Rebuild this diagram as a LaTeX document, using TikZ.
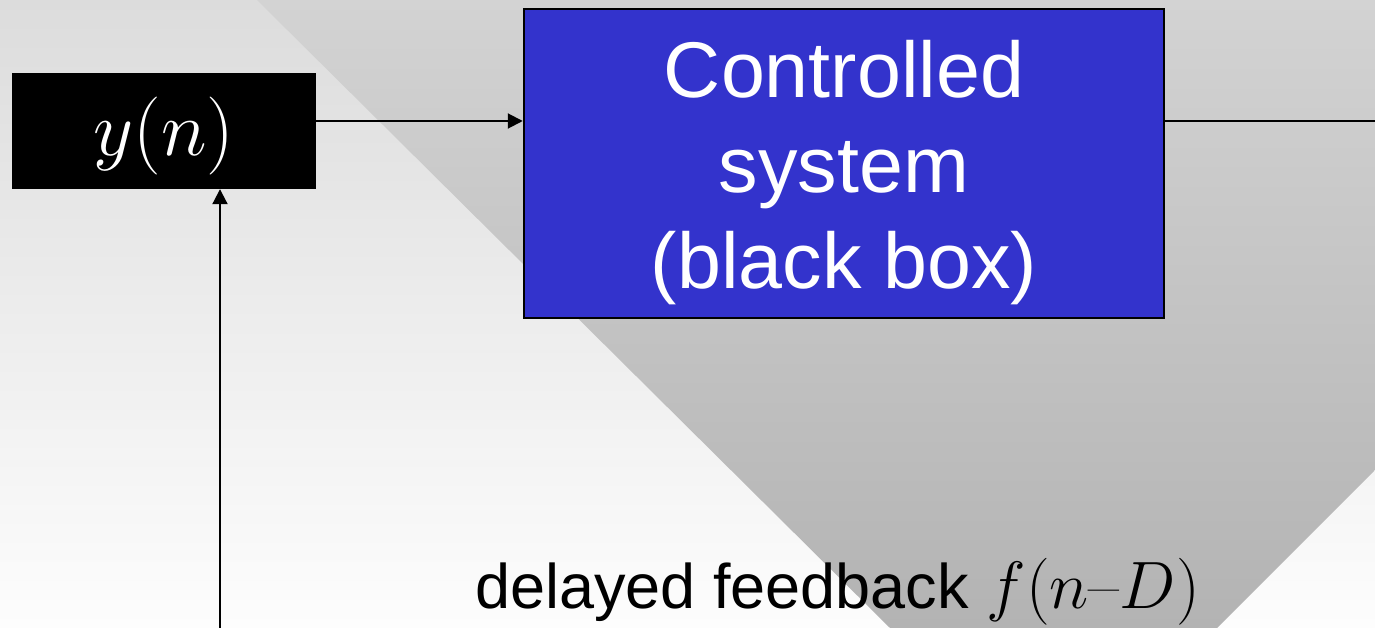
\RequirePackage{fix-cm}
\documentclass[tikz,border=0pt]{standalone}
\usepackage[no-math]{fontspec}
\setmainfont{Liberation Sans}
\newfontfamily\lmr{Latin Modern Roman}
\usetikzlibrary{arrows.meta}

\definecolor{bgtop}{HTML}{DCDCDC}
\definecolor{bgbottom}{HTML}{FDFDFD}
\definecolor{bandtop}{HTML}{D3D3D3}
\definecolor{bandbottom}{HTML}{B3B3B3}
\definecolor{sysblue}{HTML}{3333CC}

\tikzset{
  signal/.style={draw=black, line width=2pt},
  arr/.style={signal, -{Triangle[length=15pt, width=15pt]}},
  varbox/.style={fill=black, text=white, minimum width=304pt, minimum height=116pt,
    inner sep=0pt, text height=60pt, text depth=10pt,
    font=\fontsize{78}{78}\selectfont},
  sysbox/.style={fill=sysblue, draw=black, line width=2.5pt,
    minimum width=640pt, minimum height=309pt, inner sep=0pt},
  systext/.style={text=white, align=center, inner sep=0pt,
    font=\fontsize{79}{95.5}\selectfont},
  fbtext/.style={anchor=base west, inner sep=0pt, font=\fontsize{63}{63}\selectfont}
}

\begin{document}
\begin{tikzpicture}[x=1pt, y=1pt]
  % page area and backdrop
  \useasboundingbox (0,0) rectangle (1375,-628);
  \shade[top color=bgtop, bottom color=bgbottom] (0,0) rectangle (1375,-628);
  \shade[top color=bandtop, bottom color=bandbottom]
    (257,0) -- (1375,0) -- (1375,-470) -- (1217,-628) -- (890,-628) -- cycle;

  % blocks
  \node[varbox] (yn) at (164,-131) {$y(n)$};
  \node[sysbox] (sys) at (844,-163.5) {};
  \node[systext] (syslabel) at ([yshift=-9pt]sys.center) {Controlled\\system\\(black box)};

  % feedback label
  \node[fbtext] (fb) at (475,-608) {delayed feedback {\fontsize{67}{67}\selectfont$f(n\hbox{\lmr –}D)$}};

  % signal paths
  \coordinate (sigline) at (0,-121);
  \coordinate (outend) at (1375,-121);
  \coordinate (fbstart) at (220,-628);
  \draw[arr] (yn.east |- sigline) -- (sys.west |- sigline);
  \draw[signal] (sys.east |- sigline) -- (outend);
  \draw[arr] (fbstart) -- (fbstart |- yn.south);
\end{tikzpicture}
\end{document}
